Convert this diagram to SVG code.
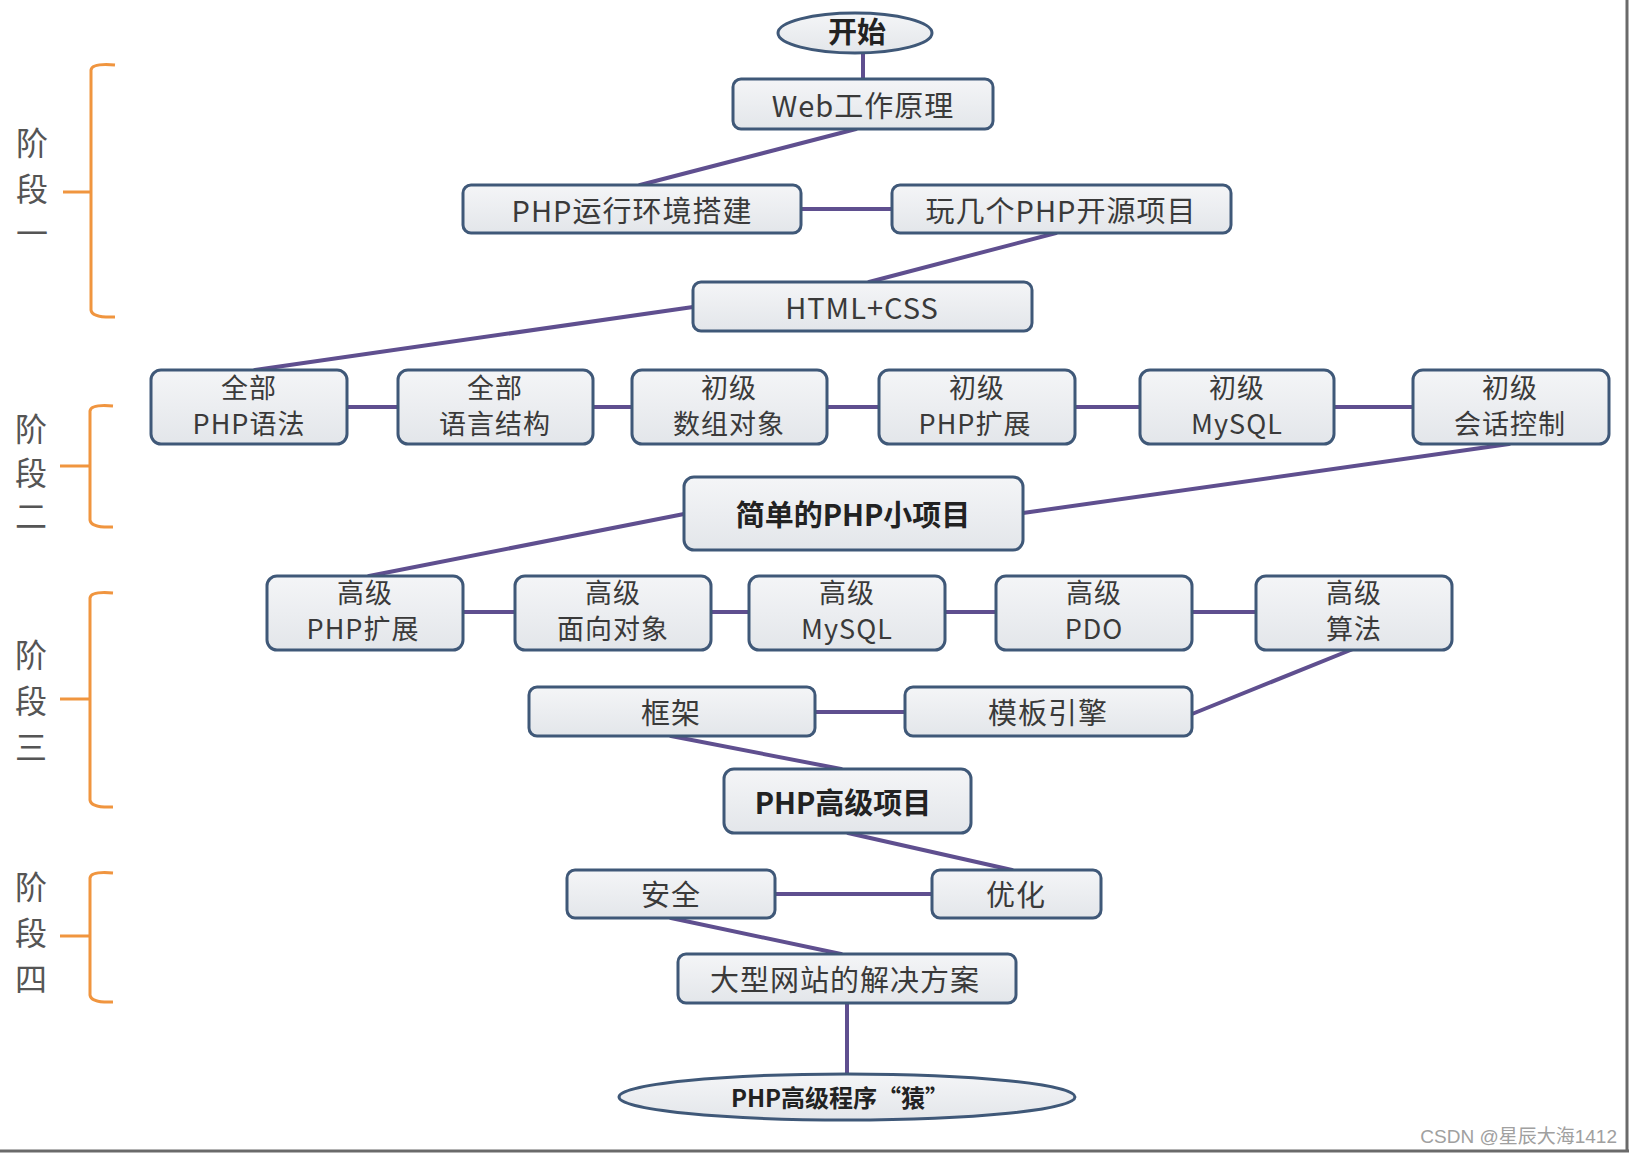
<svg xmlns="http://www.w3.org/2000/svg" width="1632" height="1154" viewBox="0 0 1632 1154">
<defs>
<linearGradient id="g" x1="0" y1="0" x2="0" y2="1">
<stop offset="0" stop-color="#f4f5f7"/>
<stop offset="1" stop-color="#e3e6ea"/>
</linearGradient>
<style>
.box{fill:url(#g);stroke:#3f5878;stroke-width:3}
.t{font-family:"Noto Sans CJK SC","Noto Sans",sans-serif;font-size:29px;letter-spacing:1px;fill:#3a3a3a;text-anchor:middle;dominant-baseline:central}
.t2{font-family:"Noto Sans CJK SC","Noto Sans",sans-serif;font-size:27px;letter-spacing:1px;fill:#3a3a3a;text-anchor:middle}
.b{font-weight:bold;fill:#222;letter-spacing:0px}
.c{stroke:#5f4f8f;stroke-width:4;fill:none;stroke-linecap:round}
.br{stroke:#f0953f;stroke-width:3;fill:none}
.s{font-family:"Noto Sans CJK SC","Noto Sans",sans-serif;font-size:32px;fill:#555;text-anchor:middle;dominant-baseline:central}
</style>
</defs>
<rect x="0" y="0" width="1632" height="1154" fill="#ffffff"/>
<g id="connectors">
<line class="c" x1="863" y1="52" x2="863" y2="79"/>
<line class="c" x1="856" y1="129" x2="640" y2="185"/>
<line class="c" x1="801" y1="209" x2="892" y2="209"/>
<line class="c" x1="1056" y1="233" x2="869" y2="282"/>
<line class="c" x1="693" y1="307" x2="255" y2="370"/>
<line class="c" x1="347" y1="407" x2="398" y2="407"/>
<line class="c" x1="593" y1="407" x2="632" y2="407"/>
<line class="c" x1="827" y1="407" x2="879" y2="407"/>
<line class="c" x1="1075" y1="407" x2="1140" y2="407"/>
<line class="c" x1="1334" y1="407" x2="1413" y2="407"/>
<line class="c" x1="1509" y1="444" x2="1023" y2="513"/>
<line class="c" x1="684" y1="514" x2="369" y2="576"/>
<line class="c" x1="463" y1="612" x2="515" y2="612"/>
<line class="c" x1="711" y1="612" x2="749" y2="612"/>
<line class="c" x1="945" y1="612" x2="996" y2="612"/>
<line class="c" x1="1192" y1="612" x2="1256" y2="612"/>
<line class="c" x1="1353" y1="649" x2="1192" y2="714"/>
<line class="c" x1="815" y1="712" x2="905" y2="712"/>
<line class="c" x1="671" y1="736" x2="841" y2="769"/>
<line class="c" x1="848" y1="833" x2="1012" y2="870"/>
<line class="c" x1="775" y1="894" x2="932" y2="894"/>
<line class="c" x1="671" y1="918" x2="841" y2="954"/>
<line class="c" x1="847" y1="1003" x2="847" y2="1073"/>
</g>
<g id="stages">
<path class="br" d="M115,65 Q92,63 91,70 L91,310 Q92,318 115,317 M91,192 L63,192"/>
<text class="s" x="32" y="141">阶</text><text class="s" x="32" y="187">段</text><text class="s" x="32" y="231">一</text>
<path class="br" d="M113,406 Q91,404 90,411 L90,520 Q91,528 113,527 M90,466 L60,466"/>
<text class="s" x="31" y="427">阶</text><text class="s" x="31" y="471">段</text><text class="s" x="31" y="514">二</text>
<path class="br" d="M113,593 Q91,591 90,598 L90,800 Q91,808 113,807 M90,699 L60,699"/>
<text class="s" x="31" y="653">阶</text><text class="s" x="31" y="699">段</text><text class="s" x="31" y="745">三</text>
<path class="br" d="M113,873 Q91,871 90,878 L90,995 Q91,1003 113,1002 M90,936 L60,936"/>
<text class="s" x="31" y="885">阶</text><text class="s" x="31" y="931">段</text><text class="s" x="31" y="977">四</text>
</g>
<g id="start"><ellipse class="box" cx="855" cy="33" rx="77" ry="20"/><text class="t b" x="857" y="30">开始</text></g>
<g id="web"><rect class="box" x="733" y="79" width="260" height="50" rx="8"/><text class="t" x="863" y="104">Web工作原理</text></g>
<g id="env"><rect class="box" x="463" y="185" width="338" height="48" rx="8"/><text class="t" x="632" y="209">PHP运行环境搭建</text></g>
<g id="opensrc"><rect class="box" x="892" y="185" width="339" height="48" rx="8"/><text class="t" x="1061" y="209">玩几个PHP开源项目</text></g>
<g id="html"><rect class="box" x="693" y="282" width="339" height="49" rx="8"/><text class="t" x="862" y="306">HTML+CSS</text></g>
<g id="n1"><rect class="box" x="151" y="370" width="196" height="74" rx="10"/><text class="t2" x="249" y="398">全部<tspan x="249" y="434">PHP语法</tspan></text></g>
<g id="n2"><rect class="box" x="398" y="370" width="195" height="74" rx="10"/><text class="t2" x="495" y="398">全部<tspan x="495" y="434">语言结构</tspan></text></g>
<g id="n3"><rect class="box" x="632" y="370" width="195" height="74" rx="10"/><text class="t2" x="729" y="398">初级<tspan x="729" y="434">数组对象</tspan></text></g>
<g id="n4"><rect class="box" x="879" y="370" width="196" height="74" rx="10"/><text class="t2" x="977" y="398">初级<tspan x="975" y="434">PHP扩展</tspan></text></g>
<g id="n5"><rect class="box" x="1140" y="370" width="194" height="74" rx="10"/><text class="t2" x="1237" y="398">初级<tspan x="1237" y="434">MySQL</tspan></text></g>
<g id="n6"><rect class="box" x="1413" y="370" width="196" height="74" rx="10"/><text class="t2" x="1510" y="398">初级<tspan x="1510" y="434">会话控制</tspan></text></g>
<g id="small"><rect class="box" x="684" y="477" width="339" height="73" rx="10"/><text class="t b" x="853" y="513">简单的PHP小项目</text></g>
<g id="m1"><rect class="box" x="267" y="576" width="196" height="74" rx="10"/><text class="t2" x="365" y="603">高级<tspan x="363" y="639">PHP扩展</tspan></text></g>
<g id="m2"><rect class="box" x="515" y="576" width="196" height="74" rx="10"/><text class="t2" x="613" y="603">高级<tspan x="613" y="639">面向对象</tspan></text></g>
<g id="m3"><rect class="box" x="749" y="576" width="196" height="74" rx="10"/><text class="t2" x="847" y="603">高级<tspan x="847" y="639">MySQL</tspan></text></g>
<g id="m4"><rect class="box" x="996" y="576" width="196" height="74" rx="10"/><text class="t2" x="1094" y="603">高级<tspan x="1094" y="639">PDO</tspan></text></g>
<g id="m5"><rect class="box" x="1256" y="576" width="196" height="74" rx="10"/><text class="t2" x="1354" y="603">高级<tspan x="1354" y="639">算法</tspan></text></g>
<g id="frame"><rect class="box" x="529" y="687" width="286" height="49" rx="8"/><text class="t" x="671" y="711">框架</text></g>
<g id="tpl"><rect class="box" x="905" y="687" width="287" height="49" rx="8"/><text class="t" x="1048" y="711">模板引擎</text></g>
<g id="adv"><rect class="box" x="724" y="769" width="247" height="64" rx="10"/><text class="t b" x="843" y="801">PHP高级项目</text></g>
<g id="sec"><rect class="box" x="567" y="870" width="208" height="48" rx="8"/><text class="t" x="671" y="893">安全</text></g>
<g id="opt"><rect class="box" x="932" y="870" width="169" height="48" rx="8"/><text class="t" x="1016" y="893">优化</text></g>
<g id="large"><rect class="box" x="678" y="954" width="338" height="49" rx="8"/><text class="t" x="845" y="978">大型网站的解决方案</text></g>
<g id="end"><ellipse class="box" cx="847" cy="1097" rx="228" ry="23"/><text class="t b" x="840" y="1096" style="font-size:24px">PHP高级程序“猿”</text></g>
<text x="1617" y="1136" style="font-family:'Liberation Sans','Noto Sans CJK SC',sans-serif;font-size:19px;fill:#a0a0a0;text-anchor:end;dominant-baseline:central">CSDN @星辰大海1412</text>
<line x1="1627" y1="0" x2="1627" y2="1152" stroke="#6a6a6a" stroke-width="3"/>
<line x1="0" y1="1151" x2="1629" y2="1151" stroke="#6a6a6a" stroke-width="3"/>
</svg>
